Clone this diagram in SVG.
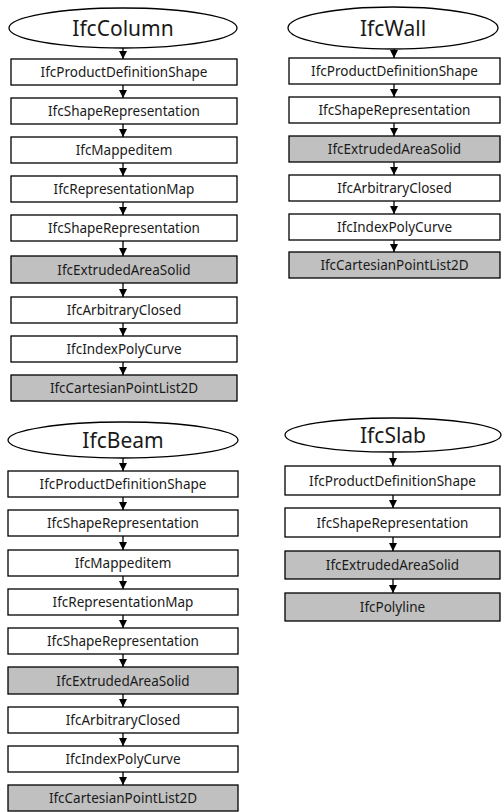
<svg xmlns="http://www.w3.org/2000/svg" width="502" height="812" viewBox="0 0 502 812">
<style>
.bg{fill:#ffffff}
.ell{fill:#ffffff;stroke:#000;stroke-width:1.3}
.box{fill:#ffffff;stroke:#000;stroke-width:1.3}
.gray{fill:#c0c0c0;stroke:#000;stroke-width:1.3}
.t{font-family:"Noto Sans","Open Sans","DejaVu Sans",sans-serif;font-size:13.5px;fill:#1a1a1a;text-anchor:middle;dominant-baseline:central}
.tt{font-family:"Noto Sans","Open Sans","DejaVu Sans",sans-serif;font-size:21px;fill:#1a1a1a;text-anchor:middle;dominant-baseline:central}
.c{stroke:#000;stroke-width:1.3;fill:none;marker-end:url(#ah)}
</style>
<defs>
<marker id="ah" markerUnits="userSpaceOnUse" markerWidth="9" markerHeight="8" refX="8" refY="4" orient="auto">
<path d="M0,0 L8,4 L0,8 Z" fill="#000"/>
</marker>
</defs>
<rect class="bg" x="0" y="0" width="502" height="812"/>

<g id="connectors">
<line class="c" x1="123" y1="48" x2="123" y2="59"/>
<line class="c" x1="123" y1="85" x2="123" y2="98"/>
<line class="c" x1="123" y1="124" x2="123" y2="137"/>
<line class="c" x1="123" y1="163" x2="123" y2="176"/>
<line class="c" x1="123" y1="202" x2="123" y2="215"/>
<line class="c" x1="123" y1="241" x2="123" y2="256"/>
<line class="c" x1="123" y1="283" x2="123" y2="297"/>
<line class="c" x1="123" y1="323" x2="123" y2="336"/>
<line class="c" x1="123" y1="362" x2="123" y2="375"/>
<line class="c" x1="394" y1="49" x2="394" y2="58"/>
<line class="c" x1="394" y1="84" x2="394" y2="97"/>
<line class="c" x1="394" y1="123" x2="394" y2="136"/>
<line class="c" x1="394" y1="162" x2="394" y2="175"/>
<line class="c" x1="394" y1="201" x2="394" y2="214"/>
<line class="c" x1="394" y1="240" x2="394" y2="252"/>
<line class="c" x1="123" y1="458" x2="123" y2="471"/>
<line class="c" x1="123" y1="497" x2="123" y2="510"/>
<line class="c" x1="123" y1="536" x2="123" y2="550"/>
<line class="c" x1="123" y1="576" x2="123" y2="589"/>
<line class="c" x1="123" y1="615" x2="123" y2="628"/>
<line class="c" x1="123" y1="654" x2="123" y2="667"/>
<line class="c" x1="123" y1="694" x2="123" y2="707"/>
<line class="c" x1="123" y1="733" x2="123" y2="746"/>
<line class="c" x1="123" y1="772" x2="123" y2="785"/>
<line class="c" x1="393" y1="452" x2="393" y2="466"/>
<line class="c" x1="393" y1="495" x2="393" y2="508"/>
<line class="c" x1="393" y1="537" x2="393" y2="551"/>
<line class="c" x1="393" y1="579" x2="393" y2="593"/>
</g>

<g id="col-root"><ellipse class="ell" cx="123" cy="28" rx="114" ry="20"/><text class="tt" x="123" y="28">IfcColumn</text></g>
<g id="col-1"><rect class="box" x="11" y="59" width="226" height="26"/><text class="t" x="124" y="72">IfcProductDefinitionShape</text></g>
<g id="col-2"><rect class="box" x="11" y="98" width="226" height="26"/><text class="t" x="124" y="111">IfcShapeRepresentation</text></g>
<g id="col-3"><rect class="box" x="11" y="137" width="226" height="26"/><text class="t" x="124" y="150">IfcMappeditem</text></g>
<g id="col-4"><rect class="box" x="11" y="176" width="226" height="26"/><text class="t" x="124" y="189">IfcRepresentationMap</text></g>
<g id="col-5"><rect class="box" x="11" y="215" width="226" height="26"/><text class="t" x="124" y="228">IfcShapeRepresentation</text></g>
<g id="col-6"><rect class="gray" x="11" y="256" width="226" height="27"/><text class="t" x="124" y="269.5">IfcExtrudedAreaSolid</text></g>
<g id="col-7"><rect class="box" x="11" y="297" width="226" height="26"/><text class="t" x="124" y="310">IfcArbitraryClosed</text></g>
<g id="col-8"><rect class="box" x="11" y="336" width="226" height="26"/><text class="t" x="124" y="349">IfcIndexPolyCurve</text></g>
<g id="col-9"><rect class="gray" x="11" y="375" width="226" height="26"/><text class="t" x="124" y="388">IfcCartesianPointList2D</text></g>

<g id="wall-root"><ellipse class="ell" cx="393" cy="28" rx="105" ry="21"/><text class="tt" x="393" y="28">IfcWall</text></g>
<g id="wall-1"><rect class="box" x="289" y="58" width="211" height="26"/><text class="t" x="394.5" y="71">IfcProductDefinitionShape</text></g>
<g id="wall-2"><rect class="box" x="289" y="97" width="211" height="26"/><text class="t" x="394.5" y="110">IfcShapeRepresentation</text></g>
<g id="wall-3"><rect class="gray" x="289" y="136" width="211" height="26"/><text class="t" x="394.5" y="149">IfcExtrudedAreaSolid</text></g>
<g id="wall-4"><rect class="box" x="289" y="175" width="211" height="26"/><text class="t" x="394.5" y="188">IfcArbitraryClosed</text></g>
<g id="wall-5"><rect class="box" x="289" y="214" width="211" height="26"/><text class="t" x="394.5" y="227">IfcIndexPolyCurve</text></g>
<g id="wall-6"><rect class="gray" x="289" y="252" width="211" height="26"/><text class="t" x="394.5" y="265">IfcCartesianPointList2D</text></g>

<g id="beam-root"><ellipse class="ell" cx="123" cy="440" rx="115" ry="18"/><text class="tt" x="123" y="440">IfcBeam</text></g>
<g id="beam-1"><rect class="box" x="8" y="471" width="230" height="26"/><text class="t" x="123" y="484">IfcProductDefinitionShape</text></g>
<g id="beam-2"><rect class="box" x="8" y="510" width="230" height="26"/><text class="t" x="123" y="523">IfcShapeRepresentation</text></g>
<g id="beam-3"><rect class="box" x="8" y="550" width="230" height="26"/><text class="t" x="123" y="563">IfcMappeditem</text></g>
<g id="beam-4"><rect class="box" x="8" y="589" width="230" height="26"/><text class="t" x="123" y="602">IfcRepresentationMap</text></g>
<g id="beam-5"><rect class="box" x="8" y="628" width="230" height="26"/><text class="t" x="123" y="641">IfcShapeRepresentation</text></g>
<g id="beam-6"><rect class="gray" x="8" y="667" width="230" height="27"/><text class="t" x="123" y="680.5">IfcExtrudedAreaSolid</text></g>
<g id="beam-7"><rect class="box" x="8" y="707" width="230" height="26"/><text class="t" x="123" y="720">IfcArbitraryClosed</text></g>
<g id="beam-8"><rect class="box" x="8" y="746" width="230" height="26"/><text class="t" x="123" y="759">IfcIndexPolyCurve</text></g>
<g id="beam-9"><rect class="gray" x="8" y="785" width="230" height="26"/><text class="t" x="123" y="798">IfcCartesianPointList2D</text></g>

<g id="slab-root"><ellipse class="ell" cx="393" cy="435" rx="108" ry="17"/><text class="tt" x="393" y="435">IfcSlab</text></g>
<g id="slab-1"><rect class="box" x="285" y="466" width="215" height="29"/><text class="t" x="392.5" y="480.5">IfcProductDefinitionShape</text></g>
<g id="slab-2"><rect class="box" x="285" y="508" width="215" height="29"/><text class="t" x="392.5" y="522.5">IfcShapeRepresentation</text></g>
<g id="slab-3"><rect class="gray" x="285" y="551" width="215" height="28"/><text class="t" x="392.5" y="565">IfcExtrudedAreaSolid</text></g>
<g id="slab-4"><rect class="gray" x="285" y="593" width="215" height="28"/><text class="t" x="392.5" y="607">IfcPolyline</text></g>
</svg>
